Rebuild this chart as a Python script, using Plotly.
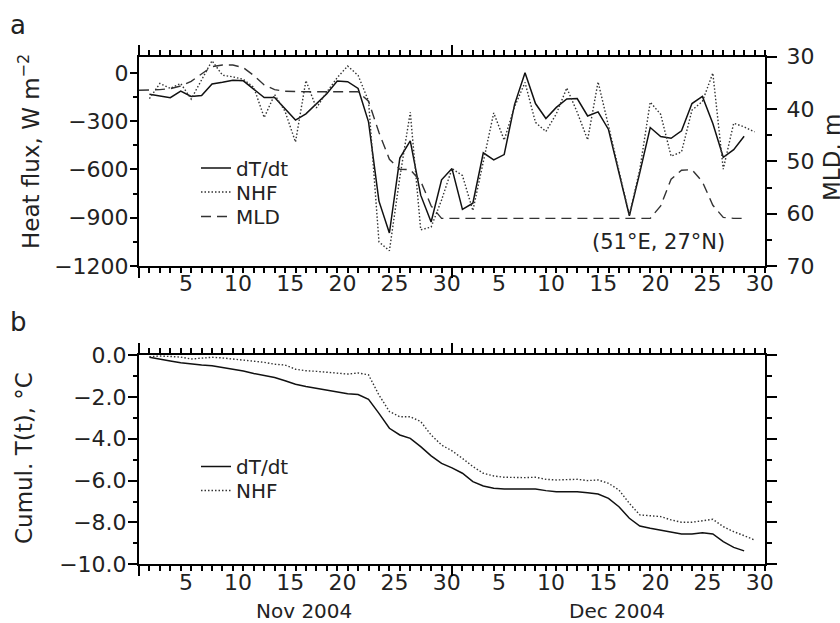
import plotly.graph_objects as go

# ---------------- data ----------------
# daily values, Nov 1 2004 ... ; day index k -> x = k + 0.5 (day boundary)
dTdt_flux = [-133, -145, -155, -114, -147, -141, -69, -59, -46, -50,
             -102, -154, -154, -222, -294, -255, -194, -130, -51, -55,
             -97, -305, -797, -995, -530, -423, -760, -927, -665, -595,
             -848, -810, -497, -541, -508, -196, 0, -191, -284, -215,
             -162, -160, -268, -243, -352, -630, -888, -620, -340, -396,
             -407, -360, -191, -147, -315, -525, -477, -394]
nhf_flux = [-160, -66, -97, -66, -163, -45, 75, -15, -25, -41,
            -90, -278, -135, -240, -430, -48, -218, -120, -30, 42,
            -16, -175, -1050, -1105, -650, -245, -975, -958, -790, -595,
            -638, -856, -550, -249, -418, -210, -60, -308, -365, -255,
            -94, -245, -416, -56, -330, -610, -885, -600, -182, -258,
            -518, -491, -232, -178, -2, -598, -313, -336, -367]
mld = [36.4, 36.4, 36.3, 36.1, 35.6, 34.7, 33.3, 31.9, 31.6, 31.6,
       32.1, 33.6, 35.4, 36.3, 36.6, 36.7, 36.7, 36.7, 36.7, 36.7,
       36.7, 36.7, 38.5, 44.5, 49.6, 51.5, 51.6, 53.8, 58.5, 60.9,
       60.9, 60.9, 60.9, 60.9, 60.9, 60.9, 60.9, 60.9, 60.9, 60.9,
       60.9, 60.9, 60.9, 60.9, 60.9, 60.9, 60.9, 60.9, 60.9, 60.9,
       58.5, 53.4, 51.7, 51.6, 53.9, 58.4, 60.7, 60.9, 60.9]
cum_dTdt = [-0.11, -0.21, -0.29, -0.37, -0.43, -0.48, -0.51, -0.59, -0.67, -0.76,
            -0.88, -0.99, -1.08, -1.23, -1.40, -1.51, -1.59, -1.67, -1.77, -1.85,
            -1.89, -2.12, -2.79, -3.50, -3.82, -3.98, -4.38, -4.82, -5.18, -5.39,
            -5.65, -6.05, -6.26, -6.37, -6.40, -6.40, -6.37, -6.40, -6.48, -6.53,
            -6.53, -6.53, -6.58, -6.64, -6.85, -7.25, -7.80, -8.17, -8.28, -8.36,
            -8.47, -8.55, -8.55, -8.49, -8.55, -8.92, -9.19, -9.36]
cum_nhf = [-0.08, -0.05, -0.07, -0.10, -0.19, -0.16, -0.11, -0.14, -0.19, -0.24,
           -0.29, -0.35, -0.44, -0.48, -0.68, -0.75, -0.78, -0.82, -0.86, -0.91,
           -0.86, -0.95, -1.91, -2.70, -2.95, -2.95, -3.18, -3.82, -4.30, -4.58,
           -4.94, -5.33, -5.65, -5.78, -5.84, -5.86, -5.86, -5.84, -5.94, -5.97,
           -5.97, -5.94, -6.00, -5.97, -6.13, -6.45, -7.09, -7.64, -7.68, -7.72,
           -7.88, -7.99, -7.99, -7.93, -7.85, -8.20, -8.44, -8.63, -8.84]

# x positions (days since Oct 31, at day boundaries)
x_series = [k + 1.5 for k in range(len(nhf_flux))]
x_dTdt = x_series[:len(dTdt_flux)]
x_mld = [k + 0.5 for k in range(len(mld))]

# date tick labels (label sits at mid-day)
label_days = [5, 10, 15, 20, 25, 30, 35, 40, 45, 50, 55, 60]
label_text = ["5", "10", "15", "20", "25", "30", "5", "10", "15", "20", "25", "30"]
day_ticks = [k + 0.5 for k in range(1, 61)]
month_ticks = [0.5, 30.5]
xrange_ = [0.5, 60.5]

hf_ticks = [-1200, -900, -600, -300, 0]
hf_text = ["\u22121200", "\u2212900", "\u2212600", "\u2212300", "0"]
hf_minor = [-1050, -750, -450, -150]
mld_ticks = [30, 40, 50, 60, 70]
mld_minor = [35, 45, 55, 65]
ct_ticks = [-10, -8, -6, -4, -2, 0]
ct_text = ["\u221210.0", "\u22128.0", "\u22126.0", "\u22124.0", "\u22122.0", "0.0"]
ct_minor = [-9, -7, -5, -3, -1]

# ---------------- figure ----------------
W, H = 840, 623
FONT = "DejaVu Sans"
TC = "#222222"
xdom = [139 / W, 765 / W]
ydom_a = [1 - 266 / H, 1 - 56.7 / H]
ydom_b = [1 - 564.3 / H, 1 - 355 / H]

SOLID = dict(color="#111111", width=1.5)
DOTTED = dict(color="#333333", width=1.4, dash="1.5px,2px")
DASHED = dict(color="#333333", width=1.4, dash="10px,6px")

fig = go.Figure()
fig.add_trace(go.Scatter(x=x_dTdt, y=dTdt_flux, mode="lines", name="dT/dt", line=SOLID,
                         xaxis="x", yaxis="y", legend="legend"))
fig.add_trace(go.Scatter(x=x_series, y=nhf_flux, mode="lines", name="NHF", line=DOTTED,
                         xaxis="x", yaxis="y", legend="legend2"))
fig.add_trace(go.Scatter(x=x_mld, y=mld, mode="lines", name="MLD", line=DASHED,
                         xaxis="x3", yaxis="y2", legend="legend3"))
fig.add_trace(go.Scatter(x=x_dTdt, y=cum_dTdt, mode="lines", name="dT/dt", line=SOLID,
                         xaxis="x2", yaxis="y3", legend="legend4"))
fig.add_trace(go.Scatter(x=x_series, y=cum_nhf, mode="lines", name="NHF", line=DOTTED,
                         xaxis="x4", yaxis="y4", legend="legend5"))

tickfont = dict(family=FONT, size=22, color=TC)
BL = dict(showgrid=False, zeroline=False, automargin=False, fixedrange=True)


def label_axis(anchor):
    return dict(domain=xdom, range=xrange_, anchor=anchor, tickmode="array",
                tickvals=label_days, ticktext=label_text, ticks="outside", ticklen=0,
                tickwidth=2, tickcolor="black",
                minor=dict(tickvals=day_ticks, ticks="outside", ticklen=5, tickwidth=2,
                           tickcolor="black"),
                showline=True, linewidth=2, linecolor="black", mirror="ticks",
                tickfont=tickfont, ticklabelstandoff=-3, **BL)


def month_axis(over, anchor):
    return dict(overlaying=over, range=xrange_, anchor=anchor, tickmode="array",
                tickvals=month_ticks, ticks="outside", ticklen=11, tickwidth=2,
                tickcolor="black", mirror="ticks", showticklabels=False,
                showline=False, **BL)


def yax(rng, vals, text, minor, side, major_len, minor_len, standoff, show=True, **kw):
    d = dict(range=rng, side=side, tickmode="array", tickvals=vals,
             ticks="outside", ticklen=major_len, tickwidth=2, tickcolor="black",
             minor=dict(tickvals=minor, ticks="outside", ticklen=minor_len,
                        tickwidth=2, tickcolor="black"),
             showline=True, linewidth=2, linecolor="black", tickfont=tickfont,
             showticklabels=show, ticklabelstandoff=standoff, **BL)
    if text is not None:
        d["ticktext"] = text
    d.update(kw)
    return d


def legend_at(py):
    return dict(x=196 / W, y=1 - py / H, xanchor="left", yanchor="middle",
                bgcolor="rgba(0,0,0,0)", font=dict(family=FONT, size=20, color=TC))


fig.update_layout(
    template="none",
    width=W, height=H, margin=dict(l=0, r=0, t=0, b=0, pad=0, autoexpand=False),
    paper_bgcolor="white", plot_bgcolor="white",
    font=dict(family=FONT, color=TC),
    xaxis=label_axis("y"),
    xaxis2=label_axis("y3"),
    xaxis3=month_axis("x", "y2"),
    xaxis4=month_axis("x2", "y4"),
    yaxis=yax([-1200, 100], hf_ticks, hf_text, hf_minor, "left", 7, 4, -3,
              domain=ydom_a, anchor="x"),
    yaxis2=yax([70, 30], mld_ticks, None, mld_minor, "right", 10, 5, 5,
               overlaying="y", anchor="x3"),
    yaxis3=yax([-10, 0], ct_ticks, ct_text, ct_minor, "left", 9, 4, -3,
               domain=ydom_b, anchor="x2"),
    yaxis4=yax([-10, 0], ct_ticks, None, ct_minor, "right", 10, 5, 5, show=False,
               overlaying="y3", anchor="x4"),
    legend=legend_at(168),
    legend2=legend_at(192),
    legend3=legend_at(216.5),
    legend4=legend_at(466.5),
    legend5=legend_at(490.5),
    showlegend=True,
)


def ann(text, px, py, size, angle=0, xanchor="center"):
    fig.add_annotation(text=text, x=px / W, y=1 - py / H, xref="paper", yref="paper",
                       showarrow=False, textangle=angle, xanchor=xanchor,
                       yanchor="middle", font=dict(family=FONT, size=size, color=TC))


ann("a", 18, 25, 26)
ann("b", 18, 322, 26)
ann("Heat flux, W m<sup>\u22122</sup>", 29, 152, 23, angle=-90)
ann("MLD, m", 832, 158, 23, angle=-90)
ann("Cumul. T(t), \u00b0C", 24, 458, 23, angle=-90)
ann("(51\u00b0E, 27\u00b0N)", 658, 242, 21)
ann("Nov 2004", 304, 611, 20)
ann("Dec 2004", 617, 611, 20)

fig.write_html("out.html")
